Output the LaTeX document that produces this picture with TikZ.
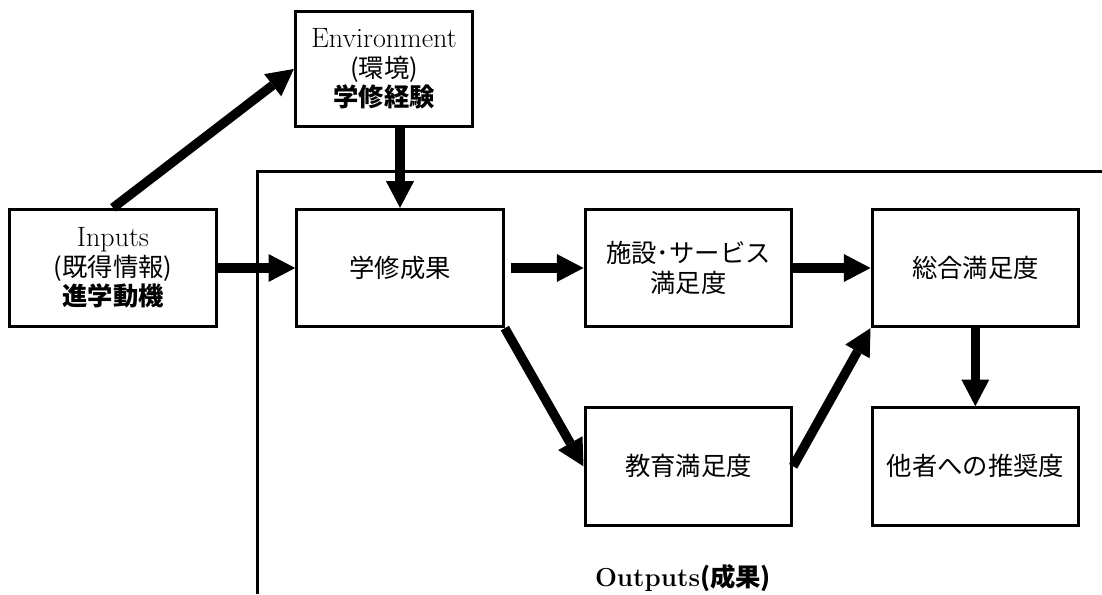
\documentclass[tikz,border=0pt]{standalone}
\usepackage{fontspec}
\newfontfamily\jp{Noto Sans CJK JP}
\newcommand\ltn{\rmfamily\fontsize{21}{22}\selectfont}
\usetikzlibrary{positioning,arrows.meta}
\tikzset{%
  txt/.style={font=\jp\fontsize{19}{22}\selectfont},
  box/.style={txt,draw,line width=2.25pt,minimum width=155pt,minimum height=88pt,align=center},
  envbox/.style={box,minimum width=133pt,minimum height=86pt},
  arr/.style={line width=7pt,-{Triangle[width=21pt,length=20pt,line width=0pt]}},
  frame/.style={line width=2.25pt}
}

\begin{document}
\begin{tikzpicture}[x=0.75pt,y=-0.75pt,node distance=58.5pt]
  \useasboundingbox (0,0) rectangle (1102,594);

  % outputs frame
  \draw [frame] (257,594) -- (257,171) -- (1102,171);
  \node [txt,font=\jp\bfseries\fontsize{19}{22}\selectfont] (out) at (683,578) {{\ltn\fontsize{19.5}{22}\selectfont\bfseries Outputs}(成果)};

  \node [box] (gaku) at (400,268) {学修成果};
  \node [box,left=58pt of gaku] (inp) {{\ltn Inputs}\\(既得情報)\\{\bfseries 進学動機}};
  \node [envbox,above=60pt of gaku,xshift=-12pt] (env) {{\ltn Environment}\\(環境)\\{\bfseries 学修経験}};
  \node [box,right=59pt of gaku] (shis) {施設･サービス\\満足度};
  \node [box,right=58pt of shis] (sogo) {総合満足度};
  \node [box,below=of shis] (kyo) {教育満足度};
  \node [box,below=of sogo] (suis) {他者への推奨度};

  \draw [arr] (inp) -- (gaku);
  \draw [arr] (inp.north) -- (env.west);
  \draw [arr] (gaku.north |- env.south) -- (gaku.north);
  \draw [arr,shorten <=4.5pt] (gaku) -- (shis);
  \draw [arr] (shis) -- (sogo);
  \draw [arr] (gaku.south east) -- (kyo.west);
  \draw [arr] (kyo.east) -- (sogo.south west);
  \draw [arr] (sogo) -- (suis);
\end{tikzpicture}
\end{document}
